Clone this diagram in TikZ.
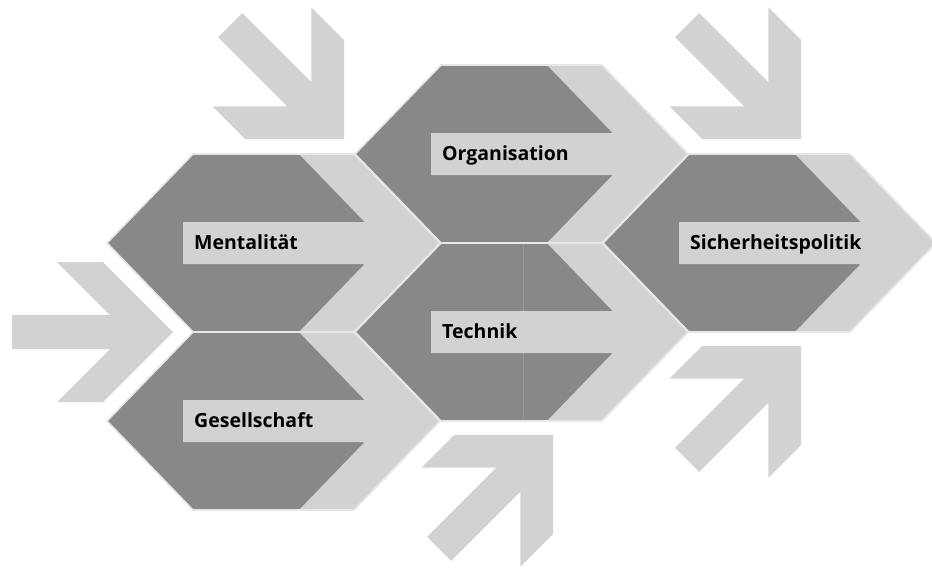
\documentclass[tikz,border=0pt]{standalone}
\usepackage{fontspec}
\setmainfont{Open Sans}
\usepackage{tikz}
\usepackage{xcolor}
\definecolor{celldark}{HTML}{87888A}
\definecolor{celllight}{HTML}{D1D2D4}
\definecolor{cellrim}{HTML}{E6E7E8}
\definecolor{seamgray}{HTML}{96979A}

\begin{document}
\begin{tikzpicture}[x=1pt, y=-1pt,
  hexfill/.style={fill=celldark},
  bandfill/.style={fill=celllight},
  hexrim/.style={draw=cellrim, line width=1.6pt, line join=miter},
  freearrow/.style={fill=celllight},
  lbl/.style={anchor=base west, inner xsep=11pt, inner ysep=0pt, text=black, font=\fontsize{19.5}{22}\selectfont\bfseries}]
\useasboundingbox (0,0) rectangle (932,568);
\fill[freearrow, shift={(344,139)}, rotate=-45] (0,0) -- (-70,70) -- (-116,70) -- (-63,17) -- (-161,17) -- (-161,-17) -- (-63,-17) -- (-116,-70) -- (-70,-70) -- cycle;
\fill[freearrow, shift={(801,139)}, rotate=-45] (0,0) -- (-70,70) -- (-116,70) -- (-63,17) -- (-161,17) -- (-161,-17) -- (-63,-17) -- (-116,-70) -- (-70,-70) -- cycle;
\fill[freearrow, shift={(173,332)}] (0,0) -- (-70,70) -- (-116,70) -- (-63,17) -- (-161,17) -- (-161,-17) -- (-63,-17) -- (-116,-70) -- (-70,-70) -- cycle;
\fill[freearrow, shift={(553,435)}, rotate=45] (0,0) -- (-70,70) -- (-116,70) -- (-63,17) -- (-161,17) -- (-161,-17) -- (-63,-17) -- (-116,-70) -- (-70,-70) -- cycle;
\fill[freearrow, shift={(801,346)}, rotate=45] (0,0) -- (-70,70) -- (-116,70) -- (-63,17) -- (-161,17) -- (-161,-17) -- (-63,-17) -- (-116,-70) -- (-70,-70) -- cycle;
\fill[hexfill, shift={(273.5,243)}] (-166.5,0) -- (-80.5,-89) -- (80.5,-89) -- (166.5,0) -- (80.5,89) -- (-80.5,89) -- cycle;
\fill[hexfill, shift={(273.5,421)}] (-166.5,0) -- (-80.5,-89) -- (80.5,-89) -- (166.5,0) -- (80.5,89) -- (-80.5,89) -- cycle;
\fill[hexfill, shift={(521.5,154)}] (-166.5,0) -- (-80.5,-89) -- (80.5,-89) -- (166.5,0) -- (80.5,89) -- (-80.5,89) -- cycle;
\fill[hexfill, shift={(521.5,332)}] (-166.5,0) -- (-80.5,-89) -- (80.5,-89) -- (166.5,0) -- (80.5,89) -- (-80.5,89) -- cycle;
\fill[hexfill, shift={(769.5,243)}] (-166.5,0) -- (-80.5,-89) -- (80.5,-89) -- (166.5,0) -- (80.5,89) -- (-80.5,89) -- cycle;
\draw[seamgray, line width=0.6pt] (523,243) -- (523,421);
\fill[bandfill, shift={(273.5,243)}] (25.5,-89) -- (80.5,-89) -- (166.5,0) -- (80.5,89) -- (25.5,89) -- (91.2,21) -- (-90.5,21) -- (-90.5,-21) -- (91.2,-21) -- cycle;
\fill[bandfill, shift={(273.5,421)}] (25.5,-89) -- (80.5,-89) -- (166.5,0) -- (80.5,89) -- (25.5,89) -- (91.2,21) -- (-90.5,21) -- (-90.5,-21) -- (91.2,-21) -- cycle;
\fill[bandfill, shift={(521.5,154)}] (25.5,-89) -- (80.5,-89) -- (166.5,0) -- (80.5,89) -- (25.5,89) -- (91.2,21) -- (-90.5,21) -- (-90.5,-21) -- (91.2,-21) -- cycle;
\fill[bandfill, shift={(521.5,332)}] (25.5,-89) -- (80.5,-89) -- (166.5,0) -- (80.5,89) -- (25.5,89) -- (91.2,21) -- (-90.5,21) -- (-90.5,-21) -- (91.2,-21) -- cycle;
\fill[bandfill, shift={(769.5,243)}] (25.5,-89) -- (80.5,-89) -- (166.5,0) -- (80.5,89) -- (25.5,89) -- (91.2,21) -- (-90.5,21) -- (-90.5,-21) -- (91.2,-21) -- cycle;
\draw[hexrim, shift={(273.5,243)}] (-166.5,0) -- (-80.5,-89) -- (80.5,-89) -- (166.5,0) -- (80.5,89) -- (-80.5,89) -- cycle;
\draw[hexrim, shift={(273.5,421)}] (-166.5,0) -- (-80.5,-89) -- (80.5,-89) -- (166.5,0) -- (80.5,89) -- (-80.5,89) -- cycle;
\draw[hexrim, shift={(521.5,154)}] (-166.5,0) -- (-80.5,-89) -- (80.5,-89) -- (166.5,0) -- (80.5,89) -- (-80.5,89) -- cycle;
\draw[hexrim, shift={(521.5,332)}] (-166.5,0) -- (-80.5,-89) -- (80.5,-89) -- (166.5,0) -- (80.5,89) -- (-80.5,89) -- cycle;
\draw[hexrim, shift={(769.5,243)}] (-166.5,0) -- (-80.5,-89) -- (80.5,-89) -- (166.5,0) -- (80.5,89) -- (-80.5,89) -- cycle;
\node[lbl] (ment) at (183,249.5) {Mentalität};
\node[lbl] (gesell) at (183,427.5) {Gesellschaft};
\node[lbl] (orga) at (431,160.5) {Organisation};
\node[lbl] (tech) at (431,338.5) {Technik};
\node[lbl] (sipo) at (679,249.5) {Sicherheitspolitik};
\end{tikzpicture}
\end{document}
